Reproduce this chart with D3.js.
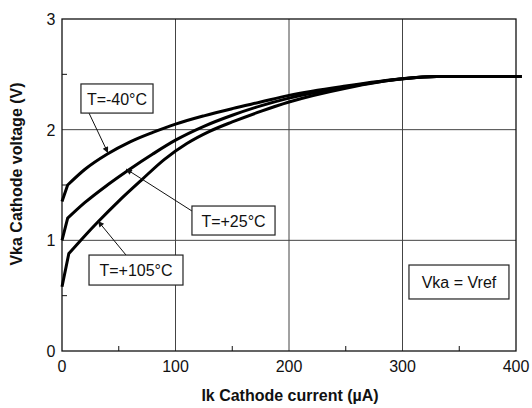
<!DOCTYPE html>
<html>
<head>
  <meta charset="utf-8">
  <script src="https://d3js.org/d3.v7.min.js"></script>
  <style>
    body { margin: 0; background: #fff; }
    svg { display: block; font-family: "Liberation Sans", Arial, sans-serif; }
    .tickLabel { font-size: 16px; fill: #111; }
    .axisTitle { font-size: 16px; font-weight: bold; fill: #111; }
    .note { font-size: 16px; fill: #111; }
  </style>
</head>
<body>
<script>
  // data (Ik in uA, Vka in V)
  var xTicks = [0, 100, 200, 300, 400];
  var yTicks = [0, 1, 2, 3];
  var xMinor = [50, 150, 250, 350];
  var yMinor = [0.5, 1.5, 2.5];

  var ikMinus40 = [0, 5, 20, 40, 60, 80, 100, 125, 150, 175, 200, 250, 300, 330, 405];
  var vkaMinus40 = [1.35, 1.5, 1.64, 1.78, 1.89, 1.975, 2.05, 2.125, 2.19, 2.25, 2.31, 2.395, 2.46, 2.48, 2.48];

  var ikPlus25 = [0, 5, 20, 40, 60, 80, 100, 125, 150, 175, 200, 250, 300, 330, 405];
  var vkaPlus25 = [1.0, 1.2, 1.34, 1.5, 1.645, 1.78, 1.905, 2.03, 2.13, 2.215, 2.285, 2.385, 2.46, 2.48, 2.48];

  var ikPlus105 = [0, 6, 20, 32, 50, 70, 90, 110, 130, 150, 175, 200, 250, 300, 330, 405];
  var vkaPlus105 = [0.58, 0.88, 1.04, 1.17, 1.355, 1.545, 1.73, 1.875, 1.985, 2.07, 2.165, 2.25, 2.375, 2.46, 2.48, 2.48];

  // annotation boxes: label, box corners in data units, leader line from -> to (data units)
  var noteLabels = ["T=-40°C", "T=+25°C", "T=+105°C", "Vka = Vref"];
  var noteBoxes = [[16.7, 2.413, 80.2, 2.15], [114.5, 1.31, 187.7, 1.048], [23.8, 0.867, 106.6, 0.596], [305.7, 0.777, 393.8, 0.47]];
  var noteLeaders = [[23.8, 2.15, 40.5, 1.79], [114.5, 1.265, 56.4, 1.645], [56.4, 0.867, 31.7, 1.175], null];

  var outerWidth = 532, outerHeight = 408;
  var margin = { top: 19, left: 62, right: 16, bottom: 57 };

  var xScale = d3.scaleLinear().domain([0, 400]).range([margin.left, outerWidth - margin.right]);
  var yScale = d3.scaleLinear().domain([0, 3]).range([outerHeight - margin.bottom, margin.top]);

  var svg = d3.select("body").append("svg")
    .attr("width", outerWidth)
    .attr("height", outerHeight);

  var defs = svg.append("defs");
  defs.append("marker")
    .attr("id", "arrow")
    .attr("viewBox", "0 0 10 10")
    .attr("refX", 10).attr("refY", 5)
    .attr("markerWidth", 9).attr("markerHeight", 6)
    .attr("markerUnits", "userSpaceOnUse")
    .attr("orient", "auto")
    .append("path")
    .attr("d", "M0,0 L10,5 L0,10 z")
    .attr("fill", "#111");

  // grid
  svg.append("g").selectAll("line").data(xTicks.slice(1, -1)).enter().append("line")
    .attr("x1", function(d) { return xScale(d); }).attr("x2", function(d) { return xScale(d); })
    .attr("y1", yScale(0)).attr("y2", yScale(3))
    .attr("stroke", "#444").attr("stroke-width", 1);
  svg.append("g").selectAll("line").data(yTicks.slice(1, -1)).enter().append("line")
    .attr("y1", function(d) { return yScale(d); }).attr("y2", function(d) { return yScale(d); })
    .attr("x1", xScale(0)).attr("x2", xScale(400))
    .attr("stroke", "#444").attr("stroke-width", 1);

  // minor ticks, pointing inward
  svg.append("g").selectAll("line").data(xMinor).enter().append("line")
    .attr("x1", function(d) { return xScale(d); }).attr("x2", function(d) { return xScale(d); })
    .attr("y1", yScale(0)).attr("y2", yScale(0) - 5)
    .attr("stroke", "#111").attr("stroke-width", 1);
  svg.append("g").selectAll("line").data(yMinor).enter().append("line")
    .attr("y1", function(d) { return yScale(d); }).attr("y2", function(d) { return yScale(d); })
    .attr("x1", xScale(0)).attr("x2", xScale(0) + 5)
    .attr("stroke", "#111").attr("stroke-width", 1);

  // frame
  svg.append("rect")
    .attr("x", xScale(0)).attr("y", yScale(3))
    .attr("width", xScale(400) - xScale(0)).attr("height", yScale(0) - yScale(3))
    .attr("fill", "none").attr("stroke", "#111").attr("stroke-width", 1.3);

  // tick labels
  svg.append("g").selectAll("text").data(xTicks).enter().append("text")
    .attr("class", "tickLabel")
    .attr("x", function(d) { return xScale(d); })
    .attr("y", yScale(0) + 21)
    .attr("text-anchor", "middle")
    .text(function(d) { return d; });
  svg.append("g").selectAll("text").data(yTicks).enter().append("text")
    .attr("class", "tickLabel")
    .attr("x", xScale(0) - 6.5)
    .attr("y", function(d) { return yScale(d) + 6; })
    .attr("text-anchor", "end")
    .text(function(d) { return d; });

  // axis titles
  svg.append("text")
    .attr("class", "axisTitle")
    .attr("x", 290).attr("y", 401)
    .attr("text-anchor", "middle")
    .text("Ik Cathode current (µA)");
  svg.append("text")
    .attr("class", "axisTitle")
    .attr("transform", "translate(22,174) rotate(-90)")
    .attr("text-anchor", "middle")
    .text("Vka Cathode voltage (V)");

  // curves: straight rise up to the knee, smooth after it
  var series = [[ikMinus40, vkaMinus40], [ikPlus25, vkaPlus25], [ikPlus105, vkaPlus105]];
  var straight = d3.line()
    .x(function(d) { return xScale(d[0]); })
    .y(function(d) { return yScale(d[1]); });
  var smooth = d3.line()
    .x(function(d) { return xScale(d[0]); })
    .y(function(d) { return yScale(d[1]); })
    .curve(d3.curveMonotoneX);

  svg.append("g").selectAll("path").data(series).enter().append("path")
    .attr("d", function(s) {
      var pts = s[0].map(function(x, i) { return [x, s[1][i]]; });
      return straight(pts.slice(0, 2)) + smooth(pts.slice(1)).replace(/^M[^A-Za-z]*/, "");
    })
    .attr("fill", "none")
    .attr("stroke", "#000")
    .attr("stroke-width", 3)
    .attr("stroke-linejoin", "round");

  // annotations
  noteLabels.forEach(function(label, i) {
    var b = noteBoxes[i];
    var x0 = xScale(b[0]), y0 = yScale(b[1]), x1 = xScale(b[2]), y1 = yScale(b[3]);
    var l = noteLeaders[i];
    if (l) {
      svg.append("line")
        .attr("x1", xScale(l[0])).attr("y1", yScale(l[1]))
        .attr("x2", xScale(l[2])).attr("y2", yScale(l[3]))
        .attr("stroke", "#111").attr("stroke-width", 1)
        .attr("marker-end", "url(#arrow)");
    }
    svg.append("rect")
      .attr("x", x0).attr("y", y0)
      .attr("width", x1 - x0).attr("height", y1 - y0)
      .attr("fill", "#fff").attr("stroke", "#222").attr("stroke-width", 1.2);
    svg.append("text")
      .attr("class", "note")
      .attr("x", (x0 + x1) / 2)
      .attr("y", (y0 + y1) / 2 + 6)
      .attr("text-anchor", "middle")
      .text(label);
  });
</script>
</body>
</html>
